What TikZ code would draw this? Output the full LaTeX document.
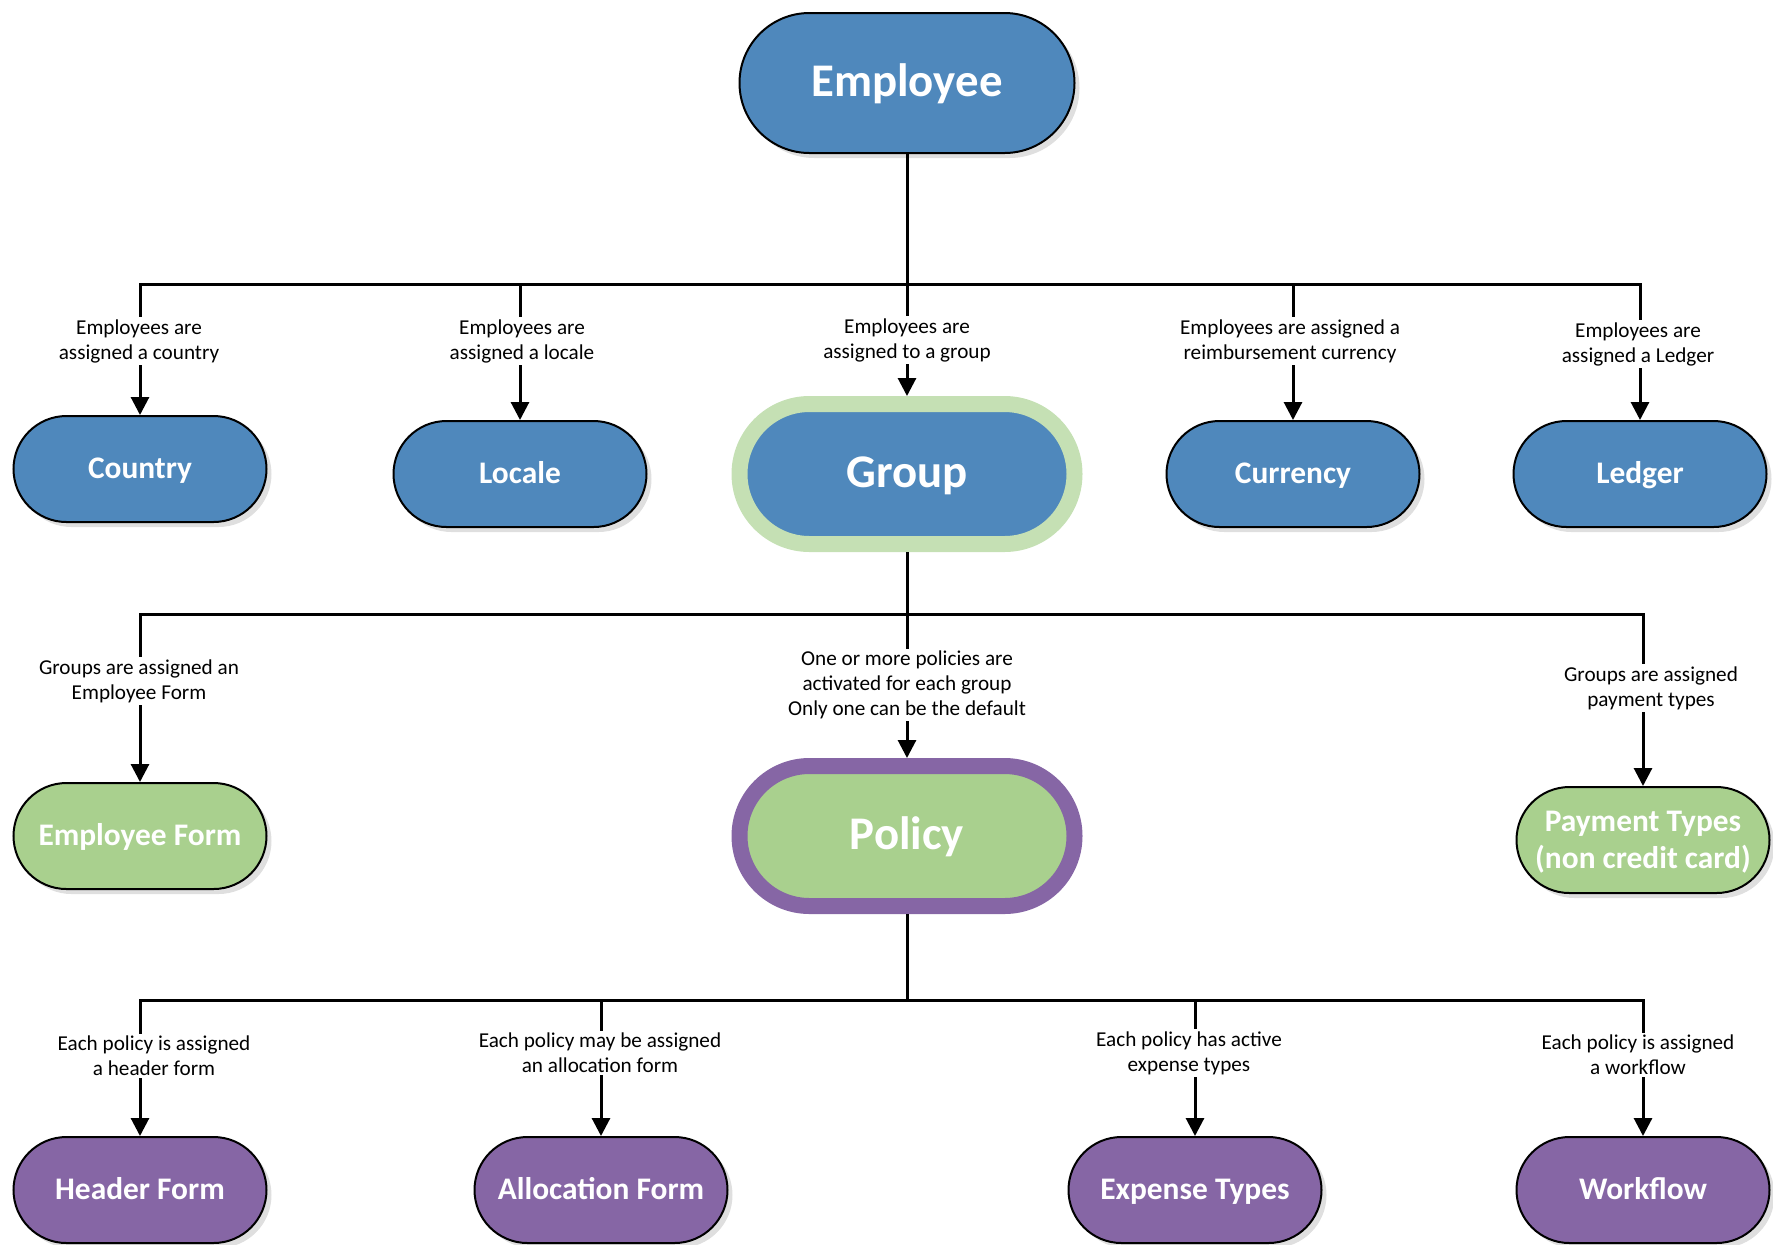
\documentclass[tikz,border=0pt]{standalone}
\usepackage{fontspec}
\setmainfont{Carlito}
\usetikzlibrary{shapes.misc,shadows,arrows.meta}
\definecolor{cblue}{RGB}{79,136,188}
\definecolor{cgreen}{RGB}{169,208,142}
\definecolor{cpale}{RGB}{197,224,180}
\definecolor{cpurple}{RGB}{134,102,165}
\begin{document}
\begin{tikzpicture}[x=0.5pt,y=-0.5pt,
  shad/.style={drop shadow={opacity=0.25,shadow xshift=2.5pt,shadow yshift=-2.5pt}},
  oneline/.style={text height=1.19em, text depth=0.2em},
  bigline/.style={text height=1.5em, text depth=0.2em},
  pill/.style={rounded rectangle, draw=black, line width=1pt, text=white, shad,
    font=\bfseries\fontsize{15.7}{18.7}\selectfont, align=center, inner sep=0pt,
    minimum width=126.5pt, minimum height=53pt},
  bigpill/.style={rounded rectangle, text=white, shad, inner sep=0pt, bigline,
    font=\bfseries\fontsize{23.4}{28}\selectfont,
    minimum width=167.5pt, minimum height=70pt},
  bluepill/.style={pill, oneline, fill=cblue},
  greenpill/.style={pill, fill=cgreen},
  purplepill/.style={pill, oneline, fill=cpurple},
  lab/.style={fill=white, inner sep=1pt, align=center, font=\fontsize{10.6}{12.5}\selectfont},
  conn/.style={line width=1.5pt},
  arr/.style={conn, -{Triangle[width=9pt,length=9pt]}}]
\useasboundingbox (0,0) rectangle (1773,1244);

% nodes
\node[bigpill, fill=cblue, draw=black, line width=1pt] (emp) at (907,83) {Employee};
\node[bluepill] (country) at (140,469) {Country};
\node[bluepill] (locale) at (520,474) {Locale};
\node[bigpill, fill=cblue, draw=cpale, line width=8pt] (grp) at (907,474) {Group};
\node[bluepill] (currency) at (1293,474) {Currency};
\node[bluepill] (ledger) at (1640,474) {Ledger};

\node[greenpill, oneline] (ef) at (140,836) {Employee Form};
\node[bigpill, fill=cgreen, draw=cpurple, line width=8pt] (pol) at (907,836) {Policy};
\node[greenpill, text depth=0pt] (pt) at (1643,840) {Payment Types\\(non credit card)};

\node[purplepill] (hf) at (140,1190) {Header Form};
\node[purplepill] (af) at (601,1190) {Allocation Form};
\node[purplepill] (et) at (1195,1190) {Expense Types};
\node[purplepill] (wf) at (1643,1190) {Workflow};

% connectors level 1
\coordinate (j1) at (907,284);
\draw[conn] (emp.south) -- (j1);
\draw[arr] (j1) -| (country.north);
\draw[arr] (j1) -| (locale.north);
\draw[arr] (j1) -- (grp.north);
\draw[arr] (j1) -| (currency.north);
\draw[arr] (j1) -| (ledger.north);

% connectors level 2
\coordinate (j2) at (907,614);
\draw[conn] (grp.south) -- (j2);
\draw[arr] (j2) -| (ef.north);
\draw[arr] (j2) -- (pol.north);
\draw[arr] (j2) -| (pt.north);

% connectors level 3
\coordinate (j3) at (907,1000);
\draw[conn] (pol.south) -- (j3);
\draw[arr] (j3) -| (hf.north);
\draw[arr] (j3) -| (af.north);
\draw[arr] (j3) -| (et.north);
\draw[arr] (j3) -| (wf.north);

% labels
\node[lab] (l1) at (139,341) {Employees are\\assigned a country};
\node[lab] (l2) at (522,341) {Employees are\\assigned a locale};
\node[lab] (l3) at (907,340) {Employees are\\assigned to a group};
\node[lab] (l4) at (1290,341) {Employees are assigned a\\reimbursement currency};
\node[lab] (l5) at (1638,344) {Employees are\\assigned a Ledger};

\node[lab] (l6) at (139,681) {Groups are assigned an\\Employee Form};
\node[lab] (l7) at (907,685) {One or more policies are\\activated for each group\\Only one can be the default};
\node[lab] (l8) at (1651,688) {Groups are assigned\\payment types};

\node[lab] (l9) at (154,1056) {Each policy is assigned\\a header form};
\node[lab] (l10) at (600,1053) {Each policy may be assigned\\an allocation form};
\node[lab] (l11) at (1189,1053) {Each policy has active\\expense types};
\node[lab] (l12) at (1638,1055) {Each policy is assigned\\a workflow};
\end{tikzpicture}
\end{document}
